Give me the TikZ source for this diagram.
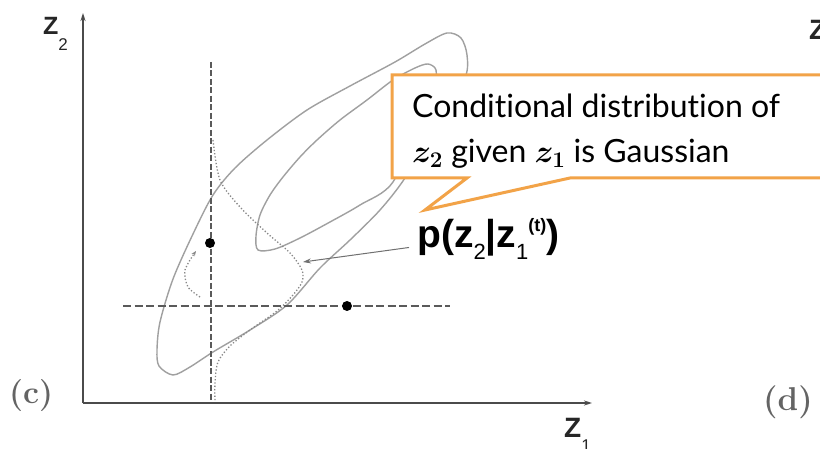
\RequirePackage{fix-cm}
\documentclass[tikz,border=0pt]{standalone}
\usepackage{fontspec}
\setsansfont{Liberation Sans}
\newfontfamily\notefont{Lato}[Ligatures=NoCommon]
\usetikzlibrary{arrows.meta}
\definecolor{calloutorange}{RGB}{242,163,72}
\definecolor{contourgray}{RGB}{160,160,160}
\definecolor{axisgray}{RGB}{75,75,75}
\definecolor{guidegray}{RGB}{90,90,90}
\definecolor{panelgray}{RGB}{100,100,100}
\newcommand\dropsub[3]{\raisebox{#1}{\mdseries\fontsize{#2}{#2}\selectfont #3}}
\tikzset{
  contour/.style={draw=contourgray, line width=1.4pt},
  axis/.style={draw=axisgray, line width=2.2pt, -{Stealth[length=8pt,width=5pt]}},
  guide/.style={draw=guidegray, line width=2.6pt, dash pattern=on 6pt off 2.5pt},
  density/.style={draw=contourgray!85!black, line width=1.3pt, dotted},
  sample/.style={circle, fill=black, inner sep=0pt, minimum size=10pt},
  axislabel/.style={font=\sffamily\bfseries, text=black!85, inner sep=0pt, anchor=base west},
  panel/.style={text=panelgray, inner sep=0pt, anchor=base west},
  callout/.style={draw=calloutorange, line width=3pt, fill=white},
  notetext/.style={font=\notefont\fontsize{32}{40}\selectfont, inner sep=0pt, anchor=base west}
}
\begin{document}
\begin{tikzpicture}[x=1pt, y=-1pt]
\useasboundingbox (0,0) rectangle (820,449);
\fill[white] (0,0) rectangle (820,449);
\clip (0,0) rectangle (820,449);
\draw[contour] plot[smooth cycle] coordinates {(173,375) (159,366) (157,350) (160,322) (173,279) (193,234) (213,195) (235,168) (267,140) (307,110) (350,86) (395,62) (425,44) (447,33) (461,38) (467,55) (465,78) (440,120) (405,178) (380,210) (350,240) (320,268) (287,305) (250,330) (213,352) (190,367)};
\draw[contour] plot[smooth cycle] coordinates {(258,250) (256,236) (260,215) (270,195) (283,177) (300,157) (317,140) (340,120) (367,100) (393,80) (415,68) (428,64) (436,70) (434,88) (420,115) (393,182) (360,205) (330,222) (300,238) (275,249)};
\draw[guide] (211,62) -- (211,403);
\draw[guide, dash pattern=on 8pt off 3.5pt] (123,306) -- (450,306);
\draw[density] plot[smooth] coordinates {(213,140) (220,180) (240,207) (267,233) (290,253) (302,270) (302,282) (293,295) (277,311) (250,330) (230,346) (218,362) (215,383) (215,403)};
\draw[density, -{Stealth[length=5pt,width=4pt]}] plot[smooth] coordinates {(200,297) (188,287) (185,270) (196,251)};
\node[sample] (zold) at (210,243) {};
\node[sample] (znew) at (347,306) {};
\coordinate (origin) at (83,403);
\draw[axis] (origin) -- (83,13);
\draw[axis] (origin) -- (592,403);
\node[axislabel, font=\sffamily\bfseries\fontsize{25}{25}\selectfont] (ztwo) at (43,35) {Z\dropsub{-16pt}{17}{2}};
\node[axislabel, font=\sffamily\bfseries\fontsize{28}{28}\selectfont] (zone) at (564,437) {Z\dropsub{-14pt}{17}{1}};
\node[axislabel, font=\sffamily\bfseries\fontsize{28}{28}\selectfont] (znext) at (809,40) {Z};
\node[panel, font=\fontsize{32}{32}\selectfont\bfseries] (panelc) at (9,403) {(c)};
\node[panel, font=\fontsize{33}{33}\selectfont\bfseries] (paneld) at (763,410) {(d)};
\draw[callout] (392,75) -- (835,75) -- (835,178) -- (570,178) -- (425,210) -- (467,178) -- (392,178) -- cycle;
\node[notetext] (notea) at (412,118) {Conditional distribution of};
\node[notetext] (noteb) at (412,163) {{\boldmath$z_2$} given {\boldmath$z_1$} is Gaussian};
\node[font=\sffamily\bfseries\fontsize{39}{39}\selectfont, inner sep=0pt, anchor=base west] (plabel) at (417,248) {p(z\dropsub{-12pt}{22}{2}|z\dropsub{-12pt}{22}{1}\raisebox{16pt}{\fontsize{18}{18}\selectfont (t)})};
\coordinate (gpeak) at (303,262);
\draw[contourgray!70!black, line width=1pt, -{Stealth[length=8pt,width=5pt]}] ([shift={(-8pt,-8pt)}]plabel.west) -- (gpeak);
\end{tikzpicture}
\end{document}
